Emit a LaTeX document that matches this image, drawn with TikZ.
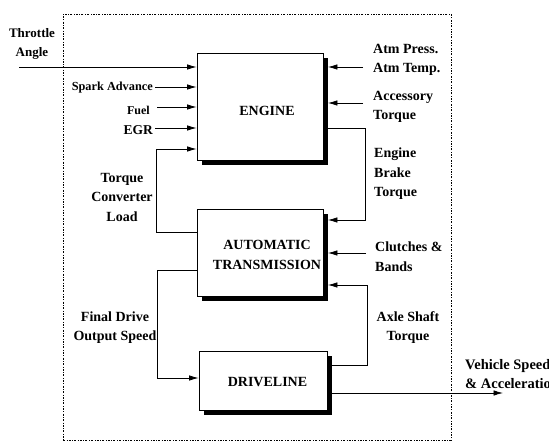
\documentclass[tikz,border=0pt]{standalone}
\usepackage{fontspec}
\setmainfont{Liberation Serif}
\usetikzlibrary{arrows.meta,shadows}
\begin{document}
\begin{tikzpicture}[x=1pt,y=-1pt,
  blk/.style={draw,fill=white,line width=0.8pt,inner sep=0pt,
    drop shadow={shadow xshift=5pt,shadow yshift=-5pt,fill=black,opacity=1}},
  btxt/.style={font=\fontsize{14}{20}\selectfont\bfseries,align=center,inner sep=0pt},
  lbl/.style={font=\fontsize{14}{19.5}\selectfont\bfseries,inner sep=0pt},
  bnd/.style={draw,line width=0.8pt,dash pattern=on 2pt off 1.5pt on 0.6pt off 1.5pt,inner sep=0pt},
  arr/.style={line width=0.8pt,-{Latex[length=9.5pt,width=5.5pt]}},
  arrR/.style={arr,shorten >=4.5pt}]
\useasboundingbox (0,0) rectangle (549,443);
\node[bnd,minimum width=388pt,minimum height=426pt] (sys) at (257,227) {};
\node[blk,minimum width=126pt,minimum height=107pt] (eng) at (260,106.5) {};
\node[blk,minimum width=126pt,minimum height=87pt] (tr) at (260,252.5) {};
\node[blk,minimum width=128pt,minimum height=59pt] (dl) at (263,380.5) {};
\node[btxt] (engT) at (267,111) {ENGINE};
\node[btxt] (trT) at (267,255) {AUTOMATIC\\TRANSMISSION};
\node[btxt] (dlT) at (267.5,382) {DRIVELINE};
% left inputs
\coordinate (thr) at (19,67);
\coordinate (spk) at (155,87);
\coordinate (fu) at (157,107);
\coordinate (egr) at (155,128);
\draw[arr] (thr) -- (thr -| eng.west);
\draw[arr] (spk) -- (spk -| eng.west);
\draw[arr] (fu) -- (fu -| eng.west);
\draw[arr] (egr) -- (egr -| eng.west);
% torque converter load
\coordinate (tc1) at (156,232);
\coordinate (tc2) at (156,149);
\draw[arr] (tc1 -| tr.west) -- (tc1) -- (tc2) -- (tc2 -| eng.west);
% final drive output speed
\coordinate (fd1) at (157,270);
\coordinate (fd2) at (157,378);
\draw[arr] (fd1 -| tr.west) -- (fd1) -- (fd2) -- (fd2 -| dl.west);
% right inputs
\coordinate (atm) at (363,67);
\coordinate (acc) at (363,103);
\coordinate (cl) at (366,253);
\draw[arrR] (atm) -- (atm -| eng.east);
\draw[arrR] (acc) -- (acc -| eng.east);
\draw[arrR] (cl) -- (cl -| tr.east);
% engine brake torque
\coordinate (eb1) at (365,128);
\coordinate (eb2) at (365,220);
\draw[arrR] ([xshift=5pt]eb1 -| eng.east) -- (eb1) -- (eb2) -- (eb2 -| tr.east);
% axle shaft torque
\coordinate (ax1) at (367,365);
\coordinate (ax2) at (367,285);
\draw[arrR] ([xshift=5pt]ax1 -| dl.east) -- (ax1) -- (ax2) -- (ax2 -| tr.east);
% vehicle speed
\coordinate (vs) at (503,393);
\draw[arr] ([xshift=5pt]vs -| dl.east) -- (vs);
% labels
\node[lbl,align=center,font=\fontsize{13}{19}\selectfont\bfseries] (thrL) at (32,43.5) {Throttle\\Angle};
\node[lbl,anchor=east,font=\fontsize{12.3}{14}\selectfont\bfseries] (spkL) at (153,88) {Spark Advance};
\node[lbl,anchor=east,font=\fontsize{12}{14}\selectfont\bfseries] (fuL) at (150,110) {Fuel};
\node[lbl,anchor=east,font=\fontsize{13.5}{14}\selectfont\bfseries] (egrL) at (153,130) {EGR};
\node[lbl,align=center] (tcL) at (122,197) {Torque\\Converter\\Load};
\node[lbl,align=center] (fdL) at (115,327.5) {Final Drive\\Output Speed};
\node[lbl,align=left,anchor=west] (atmL) at (373,60) {Atm Press.\\Atm Temp.};
\node[lbl,align=left,anchor=west] (accL) at (373,107) {Accessory\\Torque};
\node[lbl,align=left,anchor=west] (ebL) at (374,174) {Engine\\Brake\\Torque};
\node[lbl,align=left,anchor=west] (clL) at (375,256.5) {Clutches \&\\Bands};
\node[lbl,align=center] (axL) at (408,327.5) {Axle Shaft\\Torque};
\node[lbl,align=left,anchor=west,font=\fontsize{14.5}{19}\selectfont\bfseries] (vsL) at (465,374) {Vehicle Speed\\\& Acceleration};
\end{tikzpicture}
\end{document}
